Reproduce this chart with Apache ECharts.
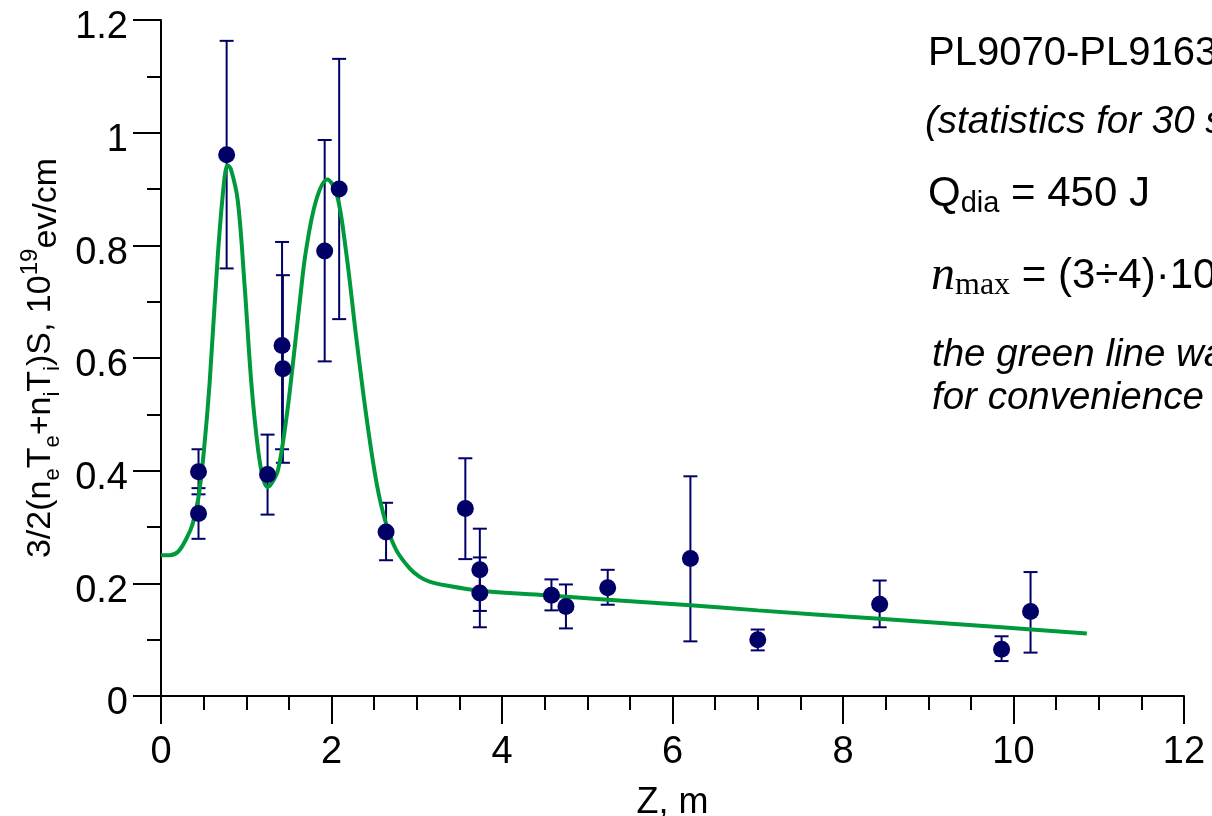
<!DOCTYPE html>
<html>
<head>
<meta charset="utf-8">
<script src="https://cdn.jsdelivr.net/npm/echarts@6/dist/echarts.min.js"></script>
<style>
html,body{margin:0;padding:0;background:#fff;}
#chart{width:1212px;height:816px;}
</style>
</head>
<body>
<div id="chart"></div>
<script>
// Measured points (Z, m) and values
const zPts    = [0.44, 0.44, 0.77, 1.25, 1.42, 1.43, 1.92, 2.09, 2.64, 3.57, 3.74, 3.74, 4.58, 4.75, 5.24, 6.21, 7.00, 8.43, 9.86, 10.20];
const vals    = [0.324, 0.398, 0.961, 0.393, 0.622, 0.581, 0.790, 0.900, 0.291, 0.333, 0.224, 0.183, 0.179, 0.159, 0.192, 0.244, 0.100, 0.163, 0.083, 0.150];
const errLow  = [0.279, 0.358, 0.759, 0.322, 0.438, 0.414, 0.594, 0.669, 0.241, 0.243, 0.151, 0.122, 0.152, 0.120, 0.162, 0.097, 0.081, 0.122, 0.062, 0.077];
const errHigh = [0.369, 0.438, 1.163, 0.464, 0.806, 0.747, 0.987, 1.131, 0.343, 0.422, 0.297, 0.246, 0.207, 0.198, 0.224, 0.390, 0.118, 0.205, 0.106, 0.220];

// Green guide line
const curveZ = [0.00, 0.10, 0.20, 0.30, 0.37, 0.44, 0.50, 0.57, 0.67, 0.745, 0.78, 0.82, 0.90, 0.98, 1.06, 1.14, 1.20, 1.25, 1.30, 1.37, 1.44, 1.51, 1.63, 1.70, 1.82, 1.95, 2.06, 2.17, 2.29, 2.41, 2.53, 2.64, 2.76, 2.92, 3.03, 3.15, 3.35, 3.74, 4.52, 5.24, 6.21, 7.00, 8.43, 9.86, 10.86];
const curveV = [0.250, 0.250, 0.256, 0.280, 0.305, 0.353, 0.430, 0.555, 0.790, 0.920, 0.942, 0.935, 0.880, 0.730, 0.555, 0.436, 0.385, 0.371, 0.378, 0.400, 0.460, 0.540, 0.703, 0.790, 0.880, 0.917, 0.892, 0.790, 0.637, 0.495, 0.377, 0.306, 0.259, 0.226, 0.212, 0.203, 0.196, 0.187, 0.179, 0.171, 0.161, 0.152, 0.137, 0.122, 0.111];

const xTicks = [0, 2, 4, 6, 8, 10, 12];
const yTicks = [0, 0.2, 0.4, 0.6, 0.8, 1, 1.2];

const NAVY = '#000066';
const GREEN = '#009a3c';
const FONT = 'Liberation Sans, Arial, sans-serif';

const pointData = zPts.map((z, i) => [z, vals[i]]);
const errData = zPts.map((z, i) => [z, errLow[i], errHigh[i]]);
const curveData = curveZ.map((z, i) => [z, curveV[i]]);

const chart = echarts.init(document.getElementById('chart'), null, {renderer: 'canvas'});

const axisCommon = {
  axisLine: {show: true, onZero: false, lineStyle: {color: '#000', width: 2}},
  axisTick: {show: true, inside: false, length: 28, lineStyle: {color: '#000', width: 2}},
  splitLine: {show: false},
  minorSplitLine: {show: false}
};

chart.setOption({
  animation: false,
  backgroundColor: '#fff',
  grid: {left: 161, right: 28, top: 20, bottom: 120, containLabel: false, outerBoundsMode: 'none'},
  xAxis: Object.assign({}, axisCommon, {
    type: 'value',
    min: xTicks[0], max: xTicks[xTicks.length - 1], interval: 2,
    minorTick: {show: true, splitNumber: 4, length: 14, lineStyle: {color: '#000', width: 2}},
    axisLabel: {color: '#000', fontSize: 38, fontFamily: FONT, margin: 38},
    name: 'Z, m',
    nameLocation: 'middle',
    nameGap: 89,
    nameTextStyle: {color: '#000', fontSize: 36, fontFamily: FONT}
  }),
  yAxis: Object.assign({}, axisCommon, {
    type: 'value',
    min: yTicks[0], max: yTicks[yTicks.length - 1], interval: 0.2,
    minorTick: {show: true, splitNumber: 2, length: 14, lineStyle: {color: '#000', width: 2}},
    axisLabel: {color: '#000', fontSize: 38, fontFamily: FONT, margin: 33, verticalAlign: 'top', lineHeight: 16},
    name: '3/2(n{sub|e}T{sub|e}+n{sub|i}T{sub|i})S, 10{sup|19}{low|ev/cm}',
    nameLocation: 'middle',
    nameGap: 97,
    nameRotate: 90,
    nameTextStyle: {
      color: '#000', fontSize: 34, fontFamily: FONT, lineHeight: 46,
      rich: {
        sub: {fontSize: 22, fontFamily: FONT, color: '#000', verticalAlign: 'bottom', lineHeight: 24},
        sup: {fontSize: 24, fontFamily: FONT, color: '#000', verticalAlign: 'top', lineHeight: 26},
        low: {fontSize: 34, fontFamily: FONT, color: '#000', verticalAlign: 'bottom', lineHeight: 38}
      }
    }
  }),
  graphic: [
    {type: 'text', left: 928, top: 34, style: {text: 'PL9070-PL9163', font: '40px "Liberation Sans", Arial', fill: '#000'}},
    {type: 'text', left: 925, top: 103, style: {text: '(statistics for 30 shots)', font: 'italic 38.5px "Liberation Sans", Arial', fill: '#000'}},
    {type: 'text', left: 928, top: 170, style: {
      text: 'Q{sub|dia} = 450 J', font: '42px "Liberation Sans", Arial', fill: '#000', lineHeight: 48,
      rich: {sub: {font: '29px "Liberation Sans", Arial', fill: '#000', verticalAlign: 'bottom', lineHeight: 28}}
    }},
    {type: 'text', left: 931, top: 250, style: {
      text: '{n|n}{max|max} = (3÷4)·10{sup|19} m{sup|-3}', font: '42px "Liberation Sans", Arial', fill: '#000', lineHeight: 52,
      rich: {
        n: {font: 'italic 48px "Liberation Serif", "Times New Roman", serif', fill: '#000', lineHeight: 52},
        max: {font: '32px "Liberation Serif", "Times New Roman", serif', fill: '#000', verticalAlign: 'bottom', lineHeight: 30},
        sup: {font: '28px "Liberation Sans", Arial', fill: '#000', verticalAlign: 'top', lineHeight: 28}
      }
    }},
    {type: 'text', left: 932, top: 336, style: {text: 'the green line was drawn', font: 'italic 38.5px "Liberation Sans", Arial', fill: '#000'}},
    {type: 'text', left: 932, top: 379, style: {text: 'for convenience of view', font: 'italic 38.5px "Liberation Sans", Arial', fill: '#000'}}
  ],
  series: [
    {
      type: 'custom',
      name: 'errors',
      z: 2,
      clip: false,
      data: errData,
      encode: {x: 0, y: [1, 2]},
      renderItem: function (params, api) {
        const x = api.value(0);
        const pLo = api.coord([x, api.value(1)]);
        const pHi = api.coord([x, api.value(2)]);
        const w = 7;
        const st = {stroke: NAVY, lineWidth: 2};
        return {
          type: 'group',
          children: [
            {type: 'line', shape: {x1: pHi[0], y1: pHi[1], x2: pLo[0], y2: pLo[1]}, style: st},
            {type: 'line', shape: {x1: pHi[0] - w, y1: pHi[1], x2: pHi[0] + w, y2: pHi[1]}, style: st},
            {type: 'line', shape: {x1: pLo[0] - w, y1: pLo[1], x2: pLo[0] + w, y2: pLo[1]}, style: st}
          ]
        };
      }
    },
    {
      type: 'line',
      name: 'guide',
      z: 3,
      data: curveData,
      showSymbol: false,
      smooth: 0.35,
      lineStyle: {color: GREEN, width: 4}
    },
    {
      type: 'scatter',
      name: 'data',
      z: 4,
      data: pointData,
      symbol: 'circle',
      symbolSize: 17,
      itemStyle: {color: NAVY, opacity: 1}
    }
  ]
});
</script>
</body>
</html>
